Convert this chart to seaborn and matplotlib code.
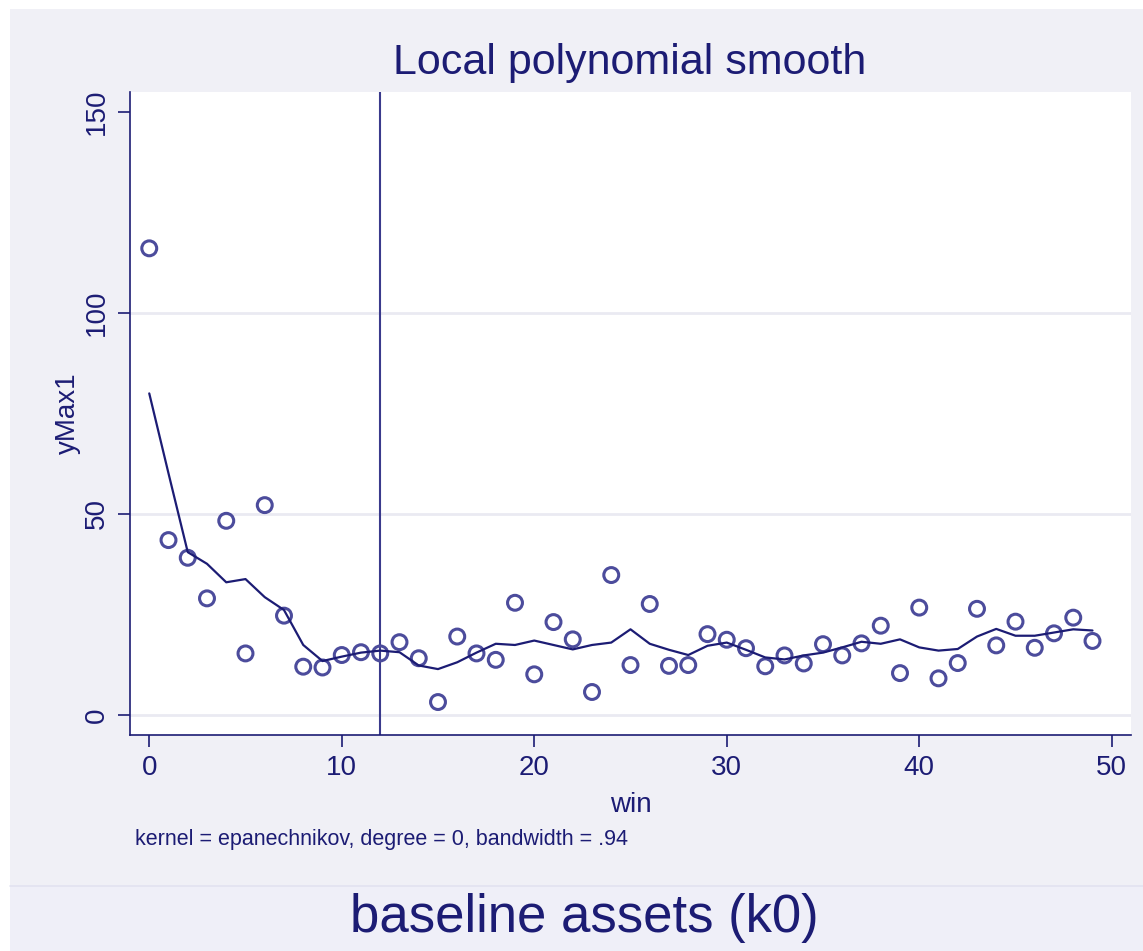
import matplotlib
matplotlib.use("Agg")
import matplotlib.pyplot as plt
from matplotlib.patches import Rectangle
from matplotlib.lines import Line2D
import numpy as np
import pandas as pd
import seaborn as sns

# data
win = list(range(50))
ymax1 = [116.1, 43.5, 39.1, 29.0, 48.3, 15.3, 52.2, 24.7, 12.0, 11.8,
         14.9, 15.6, 15.3, 18.1, 14.1, 3.2, 19.5, 15.3, 13.7, 27.9,
         10.1, 23.1, 18.8, 5.7, 34.8, 12.4, 27.6, 12.2, 12.4, 20.1,
         18.7, 16.6, 12.1, 14.8, 12.8, 17.6, 14.8, 17.8, 22.2, 10.4,
         26.7, 9.1, 12.9, 26.4, 17.3, 23.2, 16.7, 20.3, 24.2, 18.4]
smooth = [80.0, 60.1, 40.5, 37.6, 33.0, 33.8, 29.3, 26.1, 17.4, 13.4,
          14.5, 15.5, 16.0, 15.6, 12.3, 11.4, 13.1, 15.5, 17.7, 17.4,
          18.5, 17.4, 16.3, 17.4, 18.0, 21.3, 17.7, 16.2, 14.9, 17.2,
          18.0, 16.2, 14.3, 13.8, 14.8, 15.5, 16.8, 18.2, 17.7, 18.8,
          16.8, 16.0, 16.4, 19.5, 21.4, 19.7, 19.7, 20.5, 21.3, 21.0]
cutoff = 12
xticks = [0, 10, 20, 30, 40, 50]
yticks = [0, 50, 100, 150]

df = pd.DataFrame({"win": win, "yMax1": ymax1, "smooth": smooth})

navy = "#1c1c74"
marker_col = "#4c4c9c"
panel = "#f0f0f6"

sns.set_style("white")
plt.rcParams["font.family"] = ["Liberation Sans", "DejaVu Sans"]

fig = plt.figure(figsize=(11.43, 9.51), dpi=100, facecolor="white")
W, H = 1143, 951
# outer grey panel and the bottom caption strip
fig.patches.append(Rectangle((10 / W, 0), 1 - 10 / W, 1 - 9 / H, transform=fig.transFigure,
                             facecolor=panel, edgecolor="none", zorder=-10))
fig.patches.append(Rectangle((10 / W, 0), 1 - 10 / W, 1 - 886 / H, transform=fig.transFigure,
                             facecolor="#efeff8", edgecolor="none", zorder=-9))
fig.lines.append(Line2D([10 / W, 1], [1 - 886 / H] * 2, transform=fig.transFigure,
                        color="#e2e2f0", lw=1.2))

ax = fig.add_axes([130 / W, 1 - 735 / H, (1131 - 130) / W, (735 - 92) / H])
ax.set_facecolor("white")

for yv in yticks[:-1]:
    ax.axhline(yv, color="#eaeaf2", lw=2, zorder=0)
ax.axvline(cutoff, color="#3a3a8c", lw=1.5, zorder=1)

sns.scatterplot(data=df, x="win", y="yMax1", ax=ax, s=115, facecolor="none",
                edgecolor=marker_col, linewidth=2.2, zorder=3)
sns.lineplot(data=df, x="win", y="smooth", ax=ax, color=navy, lw=1.6, zorder=4)

ax.set_xlim(-1, 51)
ax.set_ylim(-5, 155)
ax.set_xticks(xticks)
ax.set_yticks(yticks)
ax.tick_params(axis="both", direction="out", length=8.6, width=1.2, color=navy,
               labelcolor=navy, labelsize=20, pad=6, left=True, bottom=True)
plt.setp(ax.get_yticklabels(), rotation=90, va="center")
for side in ["top", "right"]:
    ax.spines[side].set_visible(False)
for side in ["left", "bottom"]:
    ax.spines[side].set_color(navy)
    ax.spines[side].set_linewidth(1.2)

ax.set_xlabel("win", color=navy, fontsize=20, labelpad=8)
ax.set_ylabel("yMax1", color=navy, fontsize=20, labelpad=2)

fig.text(630 / W, 1 - 63 / H, "Local polynomial smooth", color=navy, fontsize=31,
         ha="center", va="center")
fig.text(135 / W, 1 - 840 / H, "kernel = epanechnikov, degree = 0, bandwidth = .94",
         color=navy, fontsize=15.5, ha="left", va="center")
fig.text(584 / W, 1 - 918 / H, "baseline assets (k0)", color=navy, fontsize=38,
         ha="center", va="center")

fig.savefig("out.png", dpi=100, facecolor=fig.get_facecolor())
